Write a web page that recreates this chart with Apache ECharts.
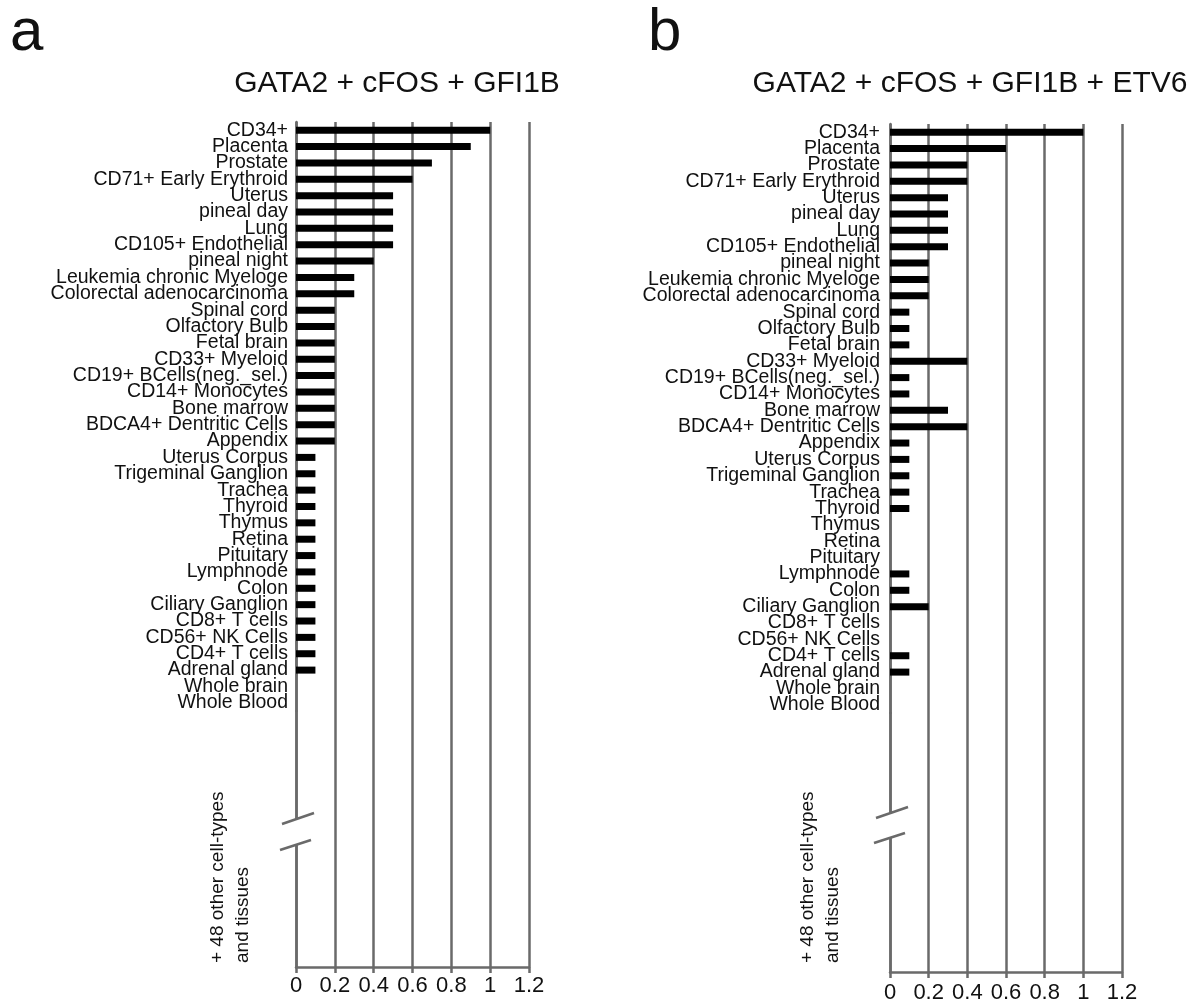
<!DOCTYPE html>
<html>
<head>
<meta charset="utf-8">
<script src="https://cdn.jsdelivr.net/npm/echarts@6/dist/echarts.min.js"></script>
<style>
  body { margin: 0; background: #fff; }
  #chart { width: 1202px; height: 1005px; }
</style>
</head>
<body>
<div id="chart"></div>
<script>
// tissues, top to bottom
const tissues = [
  'CD34+', 'Placenta', 'Prostate', 'CD71+ Early Erythroid', 'Uterus', 'pineal day', 'Lung',
  'CD105+ Endothelial', 'pineal night', 'Leukemia chronic Myeloge', 'Colorectal adenocarcinoma',
  'Spinal cord', 'Olfactory Bulb', 'Fetal brain', 'CD33+ Myeloid', 'CD19+ BCells(neg._sel.)',
  'CD14+ Monocytes', 'Bone marrow', 'BDCA4+ Dentritic Cells', 'Appendix', 'Uterus Corpus',
  'Trigeminal Ganglion', 'Trachea', 'Thyroid', 'Thymus', 'Retina', 'Pituitary', 'Lymphnode',
  'Colon', 'Ciliary Ganglion', 'CD8+ T cells', 'CD56+ NK Cells', 'CD4+ T cells',
  'Adrenal gland', 'Whole brain', 'Whole Blood'
];

// GATA2 + cFOS + GFI1B
const valuesA = [
  1.0, 0.9, 0.7, 0.6, 0.5, 0.5, 0.5, 0.5, 0.4, 0.3, 0.3,
  0.2, 0.2, 0.2, 0.2, 0.2, 0.2, 0.2, 0.2, 0.2,
  0.1, 0.1, 0.1, 0.1, 0.1, 0.1, 0.1, 0.1, 0.1, 0.1, 0.1, 0.1, 0.1, 0.1,
  0, 0
];

// GATA2 + cFOS + GFI1B + ETV6
const valuesB = [
  1.0, 0.6, 0.4, 0.4, 0.3, 0.3, 0.3, 0.3, 0.2, 0.2, 0.2,
  0.1, 0.1, 0.1, 0.4, 0.1, 0.1, 0.3, 0.4, 0.1,
  0.1, 0.1, 0.1, 0.1, 0, 0, 0, 0.1, 0.1, 0.2, 0, 0, 0.1, 0.1,
  0, 0
];

const titleA = 'GATA2 + cFOS + GFI1B';
const titleB = 'GATA2 + cFOS + GFI1B + ETV6';
const otherNote = '+ 48 other cell-types\nand tissues';
const xMin = 0, xMax = 1.2, xStep = 0.2;

const lineGrey = '#6a6a6a';
const font = 'Arial, "Liberation Sans", Helvetica, sans-serif';

const chart = echarts.init(document.getElementById('chart'));

const panels = [
  { left: 296, width: 233, top: 122, rowsH: 589, bottom: 967, labelMargin: 8, tickMargin: 8 },
  { left: 890, width: 232, top: 124, rowsH: 589, bottom: 972, labelMargin: 10, tickMargin: 10 }
];

const grid = [], xAxis = [], yAxis = [];
panels.forEach(p => {
  const split = { show: true, lineStyle: { color: lineGrey, width: 2.5 } };
  // rows part
  grid.push({ left: p.left, width: p.width, top: p.top, height: p.rowsH });
  // lower part down to the value axis
  grid.push({ left: p.left, width: p.width, top: p.top + p.rowsH, height: p.bottom - p.top - p.rowsH });
  xAxis.push({
    gridIndex: grid.length - 2, type: 'value', min: xMin, max: xMax, interval: xStep,
    axisLine: { show: false }, axisTick: { show: false }, axisLabel: { show: false }, splitLine: split
  });
  xAxis.push({
    gridIndex: grid.length - 1, type: 'value', min: xMin, max: xMax, interval: xStep, position: 'bottom',
    axisLine: { show: true, lineStyle: { color: lineGrey, width: 2.5 } },
    axisTick: { show: true, length: 6, lineStyle: { color: lineGrey, width: 2.5 } },
    axisLabel: { show: true, margin: p.tickMargin, color: '#111', fontSize: 22, fontFamily: font },
    splitLine: split
  });
  yAxis.push({
    gridIndex: grid.length - 2, type: 'category', data: tissues, inverse: true,
    axisLine: { show: true, lineStyle: { color: lineGrey, width: 2.5 } },
    axisTick: { show: false },
    axisLabel: { interval: 0, margin: p.labelMargin, color: '#111', fontSize: 19.5, fontFamily: font }
  });
  yAxis.push({
    gridIndex: grid.length - 1, type: 'value', min: 0, max: 1,
    axisLine: { show: true, lineStyle: { color: lineGrey, width: 2.5 } },
    axisTick: { show: false }, axisLabel: { show: false }, splitLine: { show: false }
  });
});

function breakMarks(x0, yA, yB) {
  // white gap in the axis line plus the two slashes
  return [
    { type: 'rect', z: 100, shape: { x: x0 - 6, y: yA, width: 12, height: yB - yA }, style: { fill: '#fff' } },
    { type: 'line', z: 101, shape: { x1: x0 - 14, y1: yA + 5, x2: x0 + 18, y2: yA - 6 }, style: { stroke: lineGrey, lineWidth: 2.5 } },
    { type: 'line', z: 101, shape: { x1: x0 - 16, y1: yB + 5, x2: x0 + 15, y2: yB - 5 }, style: { stroke: lineGrey, lineWidth: 2.5 } }
  ];
}

const option = {
  animation: false,
  backgroundColor: '#fff',
  grid: grid,
  xAxis: xAxis,
  yAxis: yAxis,
  graphic: [
    { type: 'text', x: 10, y: 33, style: { text: 'a', fontSize: 60, fontFamily: font, fill: '#111', align: 'left', verticalAlign: 'middle' } },
    { type: 'text', x: 648, y: 33, style: { text: 'b', fontSize: 60, fontFamily: font, fill: '#111', align: 'left', verticalAlign: 'middle' } },
    { type: 'text', x: 397, y: 84, style: { text: titleA, fontSize: 30, fontFamily: font, fill: '#111', align: 'center', verticalAlign: 'middle' } },
    { type: 'text', x: 970, y: 84, style: { text: titleB, fontSize: 30, fontFamily: font, fill: '#111', align: 'center', verticalAlign: 'middle' } },
    { type: 'text', x: 230, y: 963, rotation: Math.PI / 2, style: { text: otherNote, fontSize: 19, lineHeight: 25, fontFamily: font, fill: '#111', align: 'left', verticalAlign: 'middle' } },
    { type: 'text', x: 820, y: 963, rotation: Math.PI / 2, style: { text: otherNote, fontSize: 19, lineHeight: 25, fontFamily: font, fill: '#111', align: 'left', verticalAlign: 'middle' } }
  ].concat(breakMarks(296, 819, 845), breakMarks(890, 813, 838)),
  series: [
    {
      name: titleA, type: 'bar', xAxisIndex: 0, yAxisIndex: 0,
      data: valuesA, barWidth: 7, itemStyle: { color: '#000' }
    },
    {
      name: titleB, type: 'bar', xAxisIndex: 2, yAxisIndex: 2,
      data: valuesB, barWidth: 7, itemStyle: { color: '#000' }
    }
  ]
};

chart.setOption(option);
window.addEventListener('resize', chart.resize);
</script>
</body>
</html>
